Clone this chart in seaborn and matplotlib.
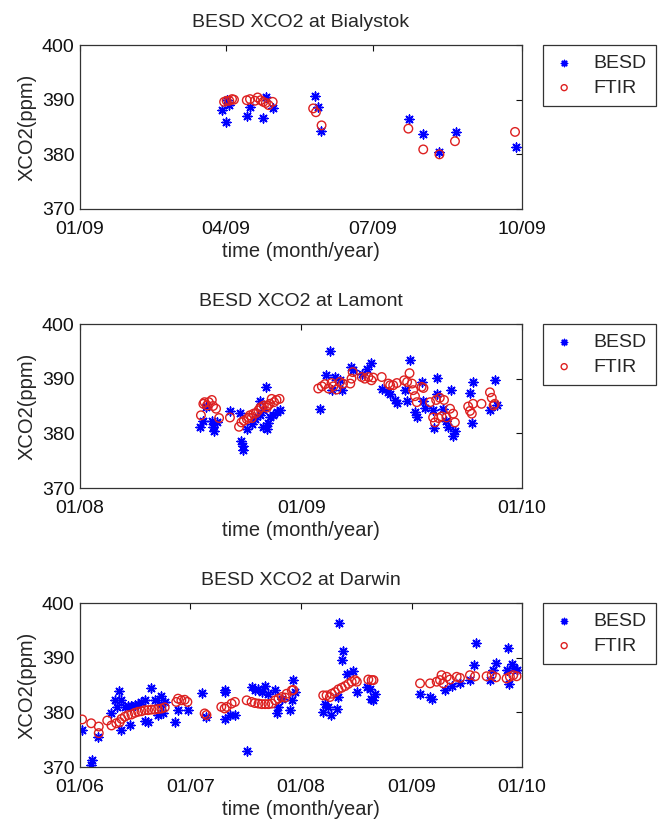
import numpy as np
import pandas as pd
import matplotlib
matplotlib.use("Agg")
import matplotlib.pyplot as plt
import matplotlib.dates as mdates
import seaborn as sns

# ---------------- data (day offsets from each panel's start date, XCO2 in ppm) ----------------
stations = ["Bialystok", "Lamont", "Darwin"]
start_dates = ["2009-01-01", "2008-01-01", "2006-01-01"]
end_dates = ["2009-10-01", "2010-01-01", "2010-01-01"]
tick_dates = [
    ["2009-01-01", "2009-04-01", "2009-07-01", "2009-10-01"],
    ["2008-01-01", "2009-01-01", "2010-01-01"],
    ["2006-01-01", "2007-01-01", "2008-01-01", "2009-01-01", "2010-01-01"],
]
yticks = [370, 380, 390, 400]

# Bialystok
bia_besd_day = [88, 90, 91, 92, 103, 105, 113, 115, 119, 145, 147, 149, 203, 212, 222, 232, 269]
bia_besd_val = [388.1, 385.9, 390.0, 389.1, 387.1, 388.6, 386.6, 390.4, 388.4, 390.7, 388.7, 384.3,
                386.5, 383.7, 380.5, 384.0, 381.4]
bia_ftir_day = [89, 90.6, 92.2, 93.9, 95.1, 103, 105, 108, 109.7, 111.6, 113.2, 114.8, 116.5, 119,
                144, 145.7, 149.2, 202.8, 212, 222, 231.6, 268.7]
bia_ftir_val = [389.6, 389.8, 389.8, 390.1, 390.0, 389.9, 390.1, 389.8, 390.4, 389.9, 389.6, 389.4,
                389.0, 389.6, 388.4, 387.7, 385.3, 384.7, 380.9, 380.0, 382.4, 384.1]

# Lamont
lam_besd_day = [198, 204, 209, 218, 220, 221, 226, 248, 265, 267, 269, 270, 276, 284, 289, 298, 298,
                303, 303, 308, 309, 311, 314, 320, 325, 331,
                397, 407, 413, 416, 422, 430, 433, 449, 452, 466, 474, 482, 499, 510, 513, 521, 524,
                537, 540, 545, 554, 557, 565, 568, 571, 584, 590, 591, 586, 601, 606, 613, 609, 617,
                620, 645, 650, 649, 678, 686, 689]
lam_besd_val = [381.2, 382.3, 384.8, 382.3, 381.1, 380.5, 382.0, 384.0, 383.7, 378.6, 377.0, 377.7,
                380.8, 381.7, 382.6, 383.3, 386.0, 384.2, 381.1, 388.5, 380.8, 381.9, 382.9, 383.3,
                383.9, 384.2,
                384.5, 390.6, 395.0, 387.9, 390.3, 389.7, 387.9, 392.1, 391.5, 390.9, 391.8, 392.8,
                388.2, 387.5, 387.2, 386.1, 385.5, 387.9, 386.0, 393.5, 383.9, 382.9, 389.4, 386.0,
                384.7, 384.2, 387.2, 390.2, 380.9, 384.5, 382.3, 388.0, 381.1, 379.6, 380.5, 387.4,
                389.3, 381.9, 384.3, 389.8, 385.1]
lam_ftir_day = [200, 204, 206, 210, 213, 218, 220, 225, 230, 248, 263, 267, 271, 276, 279, 281, 284,
                287, 291, 295, 298, 300, 304, 309, 311, 314, 317, 321, 325, 330,
                394, 400, 405, 411, 416, 419, 424, 430, 435, 447, 449, 451, 466, 471, 477, 482, 485,
                499, 510, 513, 518, 524, 536, 541, 545, 549, 551, 554, 557, 565, 568, 579, 589, 595,
                602, 584, 587, 593, 598, 606, 612, 617, 620, 642, 645, 648, 650, 664, 678, 681, 684, 686]
lam_ftir_val = [383.3, 385.4, 385.7, 385.1, 385.7, 386.1, 385.0, 384.5, 382.8, 382.9, 381.2, 382.0,
                382.3, 382.6, 382.9, 383.3, 382.8, 383.6, 383.7, 384.2, 384.7, 384.8, 385.1, 384.7,
                385.1, 385.4, 386.3, 385.7, 386.1, 386.3,
                388.2, 388.6, 389.0, 388.2, 389.2, 388.6, 388.0, 389.4, 389.1, 389.1, 390.0, 391.2,
                390.3, 390.0, 390.3, 389.7, 390.2, 390.3, 389.1, 388.8, 388.8, 389.2, 389.7, 389.4,
                391.0, 389.1, 387.9, 386.8, 385.7, 388.5, 388.3, 385.7, 386.1, 386.5, 386.1, 382.9,
                382.0, 382.8, 383.1, 382.9, 384.5, 383.6, 382.0, 384.9, 384.1, 383.6, 385.4, 385.4,
                387.5, 386.5, 385.1, 385.4]

# Darwin
dar_besd_day = [7, 35, 40, 59, 104, 115, 128, 123, 137, 137, 148, 159, 170, 181, 192, 203, 214, 164,
                214, 225, 234, 247, 267, 269, 258, 274, 280, 315, 324, 357, 403, 418, 478, 478,
                479, 496, 512, 551, 567, 578, 590, 601, 612, 623, 645, 650, 656, 667, 694, 700, 705,
                711, 804, 810, 821, 830, 848, 854, 856, 870, 867, 881, 903, 915, 948, 962,
                959, 970, 975, 1124, 1157, 1162, 1206, 1229, 1256, 1289, 1302, 1309, 1355, 1375,
                1366, 1410, 1416, 1419, 1427, 1435, 1443]
dar_besd_val = [376.8, 370.3, 371.2, 375.5, 379.8, 382.2, 383.9, 380.9, 376.7, 382.2, 381.0, 381.1,
                381.1, 381.3, 381.5, 381.9, 382.3, 377.6, 378.5, 378.2, 384.5, 382.2, 383.0, 381.6,
                379.5, 379.8, 381.9, 378.2, 380.4, 380.4, 383.5, 379.1, 383.7, 378.8,
                384.0, 379.5, 379.5, 373.0, 384.6, 384.0, 384.3, 383.7, 384.9, 383.4, 384.0, 379.8,
                381.0, 382.5, 380.4, 382.2, 385.9, 383.7, 380.1, 381.6, 381.0, 379.5, 380.7, 382.8,
                396.4, 391.2, 389.6, 387.1, 387.6, 383.7, 384.6, 382.5,
                384.3, 382.2, 383.4, 383.4, 382.8, 382.5, 384.0, 384.9, 385.4, 385.9, 388.6, 392.7,
                386.0, 389.0, 387.7, 387.7, 391.8, 385.2, 388.9, 388.2, 387.7]
dar_ftir_day = [7, 37, 62, 62, 90, 104, 120, 131, 137, 148, 159, 170, 181, 192, 203, 214, 225, 236,
                247, 258, 269, 280, 318, 324, 335, 346, 355, 412, 418, 467, 478,
                485, 501, 512, 551, 567, 578, 590, 601, 612, 623, 634, 645, 656, 667, 678, 683, 700,
                705, 804, 815, 826, 832, 843, 854, 865, 876, 887, 898, 909, 915, 953, 964,
                970, 1124, 1157, 1179, 1190, 1195, 1201, 1212, 1223, 1245, 1256, 1289, 1306, 1344,
                1361, 1375, 1410, 1421, 1432, 1443]
dar_ftir_val = [378.7, 378.0, 377.4, 376.2, 378.5, 377.6, 378.0, 378.2, 378.8, 379.2, 379.5, 379.6,
                379.9, 380.1, 380.2, 380.4, 380.4, 380.5, 380.5, 380.6, 380.7, 380.9, 381.9, 382.5,
                382.2, 382.3, 381.9, 379.8, 379.5, 381.0, 380.7,
                381.0, 381.6, 381.9, 382.2, 381.9, 381.7, 381.6, 381.5, 381.5, 381.5, 381.6, 382.2,
                382.5, 382.8, 382.7, 383.4, 384.0, 384.1, 383.1, 383.1, 382.8, 383.4, 383.7, 384.2,
                384.5, 384.8, 385.2, 385.6, 385.9, 385.6, 386.0, 385.9,
                385.9, 385.3, 385.3, 385.6, 385.9, 386.8, 385.3, 386.5, 386.0, 386.5, 386.3, 386.8,
                386.6, 386.6, 386.8, 386.4, 386.2, 386.5, 386.8, 386.6]

besd_days = [bia_besd_day, lam_besd_day, dar_besd_day]
besd_vals = [bia_besd_val, lam_besd_val, dar_besd_val]
ftir_days = [bia_ftir_day, lam_ftir_day, dar_ftir_day]
ftir_vals = [bia_ftir_val, lam_ftir_val, dar_ftir_val]

# ---------------- style ----------------
sns.set_style("white")
plt.rcParams["font.family"] = ["Liberation Sans", "DejaVu Sans"]
plt.rcParams["xtick.direction"] = "in"
plt.rcParams["ytick.direction"] = "in"

fig = plt.figure(figsize=(6.59, 8.22), dpi=100)
W, H = 659.0, 822.0
panel_tops = [45, 324, 603]
ax_left, ax_right, ax_h = 80, 522, 164

asterisk = (8, 2, 0)
blue = "#0000ff"
red = "#dd2020"

for i, name in enumerate(stations):
    top = panel_tops[i]
    ax = fig.add_axes([ax_left / W, 1 - (top + ax_h) / H, (ax_right - ax_left) / W, ax_h / H])
    base = pd.Timestamp(start_dates[i])
    bx = base + pd.to_timedelta(np.array(besd_days[i], dtype=float), unit="D")
    fx = base + pd.to_timedelta(np.array(ftir_days[i], dtype=float), unit="D")
    sns.scatterplot(x=bx, y=besd_vals[i], marker=asterisk, s=40, color=blue, edgecolor=blue,
                    linewidth=1.1, ax=ax, label="BESD", zorder=2)
    sns.scatterplot(x=fx, y=ftir_vals[i], marker="o", s=38, facecolor="none", edgecolor=red,
                    linewidth=1.0, ax=ax, label="FTIR", zorder=3)
    ax.set_xlim(pd.Timestamp(start_dates[i]), pd.Timestamp(end_dates[i]))
    ax.set_ylim(370, 400)
    ax.set_xticks([pd.Timestamp(t) for t in tick_dates[i]])
    ax.xaxis.set_major_formatter(mdates.DateFormatter("%m/%y"))
    ax.set_yticks(yticks)
    ax.tick_params(axis="both", which="both", top=True, right=True, length=4, width=0.8,
                   labelsize=14, colors="#111111")
    ax.tick_params(axis="x", pad=8.5)
    ax.tick_params(axis="y", pad=4)
    for sp in ax.spines.values():
        sp.set_color("#333333")
        sp.set_linewidth(0.9)
    ax.set_title(f"BESD XCO2 at {name}", fontsize=14, pad=13)
    ax.set_xlabel("time (month/year)", fontsize=14.5, labelpad=3)
    ax.set_ylabel("XCO2(ppm)", fontsize=14.5, labelpad=4)
    leg = ax.legend(loc="upper left", bbox_to_anchor=(1.047, 1.0), fontsize=14, frameon=True,
                    fancybox=False, framealpha=1, edgecolor="#333333", borderpad=0.5,
                    handletextpad=0.9, labelspacing=0.35, handlelength=1.2, markerscale=0.7,
                    borderaxespad=0)
    leg.get_frame().set_linewidth(0.9)

fig.savefig("out.png", dpi=100)
